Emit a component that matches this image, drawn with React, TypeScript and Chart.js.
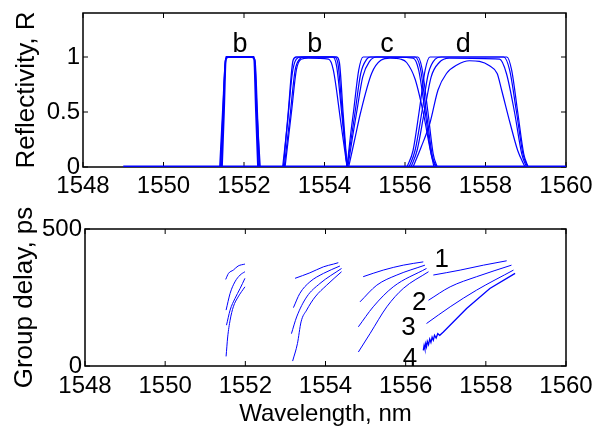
import React, { useEffect, useRef } from "react";
import { Chart, registerables } from "chart.js";

Chart.register(...registerables);

type Pt = [number, number];

// ---------- axes ----------
const xMin = 1548;
const xMax = 1560;
const xStep = 2;
const reflTicks = [0, 0.5, 1];
const reflMax = 1.4;
const gdTicks = [0, 500];
const gdMax = 500;

// ---------- top panel: reflectivity ----------
const reflBaseline: Pt[] = [[1549, 0], [1560, 0]];

const reflB1a: Pt[] = [[1551.45, 0], [1551.5, 0.5], [1551.55, 1], [1552.25, 1], [1552.3, 0.5], [1552.35, 0]];
const reflB1b: Pt[] = [[1551.42, 0], [1551.48, 0.5], [1551.54, 0.97], [1551.6, 1], [1552.2, 1], [1552.27, 0.97], [1552.33, 0.5], [1552.38, 0]];
const reflB1c: Pt[] = [[1551.4, 0], [1551.47, 0.5], [1551.55, 0.98], [1551.62, 1], [1552.18, 1], [1552.26, 0.98], [1552.32, 0.5], [1552.4, 0]];

const reflB2a: Pt[] = [[1552.98, 0], [1553.1, 0.5], [1553.22, 0.97], [1553.3, 1], [1554.3, 1], [1554.37, 0.95], [1554.46, 0.5], [1554.56, 0]];
const reflB2b: Pt[] = [[1552.96, 0], [1553.08, 0.4], [1553.2, 0.85], [1553.3, 0.98], [1553.42, 1], [1554.24, 1], [1554.33, 0.95], [1554.44, 0.5], [1554.56, 0]];
const reflB2c: Pt[] = [[1553.0, 0], [1553.14, 0.45], [1553.27, 0.88], [1553.38, 0.98], [1553.5, 1], [1554.2, 1], [1554.3, 0.92], [1554.43, 0.48], [1554.56, 0]];
const reflB2d: Pt[] = [[1553.02, 0], [1553.18, 0.5], [1553.3, 0.88], [1553.42, 0.98], [1553.6, 0.99], [1554.1, 0.98], [1554.22, 0.88], [1554.4, 0.42], [1554.56, 0]];

const reflCa: Pt[] = [[1554.56, 0], [1554.65, 0.3], [1554.72, 0.5], [1554.85, 0.88], [1554.96, 1], [1556.32, 1], [1556.42, 0.9], [1556.57, 0.5], [1556.7, 0.12], [1556.8, 0]];
const reflCb: Pt[] = [[1554.56, 0], [1554.68, 0.3], [1554.76, 0.5], [1554.9, 0.85], [1555.05, 0.98], [1555.15, 1], [1556.25, 1], [1556.38, 0.9], [1556.53, 0.5], [1556.68, 0.1], [1556.78, 0]];
const reflCc: Pt[] = [[1554.58, 0], [1554.7, 0.28], [1554.8, 0.5], [1554.95, 0.82], [1555.12, 0.96], [1555.3, 1], [1556.2, 0.99], [1556.34, 0.88], [1556.5, 0.5], [1556.65, 0.12], [1556.76, 0]];
const reflCd: Pt[] = [[1554.6, 0], [1554.75, 0.25], [1554.9, 0.5], [1555.17, 0.85], [1555.4, 0.97], [1555.63, 0.99], [1555.9, 0.98], [1556.04, 0.95], [1556.25, 0.8], [1556.45, 0.5], [1556.62, 0.17], [1556.72, 0]];

const reflDa: Pt[] = [[1556.05, 0], [1556.2, 0.15], [1556.35, 0.5], [1556.5, 0.88], [1556.62, 1], [1558.53, 1], [1558.65, 0.88], [1558.8, 0.5], [1558.95, 0.12], [1559.06, 0]];
const reflDb: Pt[] = [[1556.1, 0], [1556.25, 0.15], [1556.42, 0.5], [1556.58, 0.85], [1556.75, 0.98], [1556.9, 1], [1558.45, 1], [1558.6, 0.88], [1558.77, 0.5], [1558.93, 0.12], [1559.05, 0]];
const reflDc: Pt[] = [[1556.15, 0], [1556.3, 0.15], [1556.48, 0.5], [1556.65, 0.82], [1556.85, 0.95], [1557.1, 0.99], [1558.35, 0.98], [1558.52, 0.85], [1558.72, 0.5], [1558.9, 0.12], [1559.02, 0]];
const reflDd: Pt[] = [[1556.2, 0], [1556.4, 0.18], [1556.62, 0.4], [1556.82, 0.7], [1557.03, 0.85], [1557.3, 0.93], [1557.6, 0.966], [1557.85, 0.96], [1558.1, 0.92], [1558.29, 0.85], [1558.4, 0.7], [1558.61, 0.4], [1558.8, 0.15], [1558.98, 0]];

// ---------- bottom panel: group delay ----------
const gdB1a: Pt[] = [[1551.51, 316], [1551.58, 338], [1551.7, 350], [1551.82, 365], [1551.99, 372]];
const gdB1b: Pt[] = [[1551.52, 204], [1551.62, 265], [1551.74, 307], [1551.87, 332], [1551.99, 344]];
const gdB1c: Pt[] = [[1551.53, 149], [1551.62, 204], [1551.74, 246], [1551.87, 283], [1551.99, 320]];
const gdB1d: Pt[] = [[1551.52, 35], [1551.56, 106], [1551.62, 167], [1551.7, 216], [1551.82, 252], [1551.99, 289]];

const gdB2a: Pt[] = [[1553.24, 320], [1553.61, 340], [1553.95, 362], [1554.2, 372], [1554.32, 377]];
const gdB2b: Pt[] = [[1553.2, 213], [1553.36, 265], [1553.61, 307], [1553.95, 338], [1554.36, 365]];
const gdB2c: Pt[] = [[1553.15, 118], [1553.28, 179], [1553.53, 252], [1553.86, 301], [1554.4, 356]];
const gdB2d: Pt[] = [[1553.18, 18], [1553.3, 82], [1553.39, 161], [1553.53, 204], [1553.74, 252], [1554.03, 295], [1554.4, 344]];

const gdCa: Pt[] = [[1554.94, 326], [1555.44, 350], [1555.94, 368], [1556.44, 380]];
const gdCb: Pt[] = [[1554.86, 234], [1555.28, 295], [1555.78, 332], [1556.48, 368]];
const gdCc: Pt[] = [[1554.82, 143], [1555.19, 216], [1555.69, 289], [1556.52, 356]];
const gdCd: Pt[] = [[1554.82, 51], [1555.11, 118], [1555.53, 216], [1555.94, 283], [1556.57, 344]];

const gdDa: Pt[] = [[1556.69, 332], [1557.36, 350], [1557.94, 368], [1558.52, 384]];
const gdDb: Pt[] = [[1556.57, 240], [1557.11, 289], [1557.77, 326], [1558.64, 368]];
const gdDc: Pt[] = [[1556.52, 155], [1557.11, 216], [1557.77, 277], [1558.69, 350]];
const gdDd: Pt[] = [
  [1556.44, 57], [1556.46, 75], [1556.48, 62], [1556.5, 82], [1556.52, 70], [1556.54, 90],
  [1556.57, 78], [1556.6, 98], [1556.63, 86], [1556.66, 105], [1556.69, 94], [1556.72, 112],
  [1556.76, 102], [1556.8, 118], [1556.85, 112], [1556.94, 124], [1557.52, 210], [1558.1, 283], [1558.73, 338],
];

// ---------- annotations ----------
const reflLabelText = ["b", "b", "c", "d"];
const reflLabelX = [1551.9, 1553.76, 1555.55, 1557.45];
const reflLabelY = [1.045, 1.045, 1.045, 1.045];

const gdLabelText = ["1", "2", "3", "4"];
const gdLabelX = [1556.9, 1556.34, 1556.07, 1556.11];
const gdLabelY = [362, 204, 112, 0];

const BLUE = "#0000ff";
const FONT = "'Liberation Sans', Arial, Helvetica, sans-serif";

const boxPlugin = {
  id: "matlabBox",
  beforeDatasetsDraw(chart: any) {
    const { ctx, chartArea } = chart;
    const { left, right, top, bottom } = chartArea;
    const xs = chart.scales.x;
    const ys = chart.scales.y;
    const L = 5;
    ctx.save();
    ctx.strokeStyle = "#000";
    ctx.lineWidth = 1.5;
    ctx.strokeRect(left, top, right - left, bottom - top);
    ctx.beginPath();
    xs.ticks.forEach((t: any) => {
      const px = xs.getPixelForValue(t.value);
      ctx.moveTo(px, bottom);
      ctx.lineTo(px, bottom - L);
      ctx.moveTo(px, top);
      ctx.lineTo(px, top + L);
    });
    ys.ticks.forEach((t: any) => {
      const py = ys.getPixelForValue(t.value);
      ctx.moveTo(left, py);
      ctx.lineTo(left + L, py);
      ctx.moveTo(right, py);
      ctx.lineTo(right - L, py);
    });
    ctx.lineWidth = 1;
    ctx.stroke();
    ctx.restore();
  },
};

const labelPlugin = {
  id: "curveLabels",
  afterDatasetsDraw(chart: any, _args: any, opts: any) {
    if (!opts || !opts.text) return;
    const { ctx } = chart;
    const xs = chart.scales.x;
    const ys = chart.scales.y;
    ctx.save();
    ctx.fillStyle = "#000";
    ctx.font = `${opts.size || 25}px ${FONT}`;
    ctx.textAlign = "center";
    ctx.textBaseline = "alphabetic";
    opts.text.forEach((t: string, i: number) => {
      ctx.fillText(t, xs.getPixelForValue(opts.x[i]), ys.getPixelForValue(opts.y[i]));
    });
    ctx.restore();
  },
};

function toData(p: Pt[]) {
  return p.map(([x, y]) => ({ x, y }));
}

function line(p: Pt[], width: number, monotone = true) {
  return {
    data: toData(p),
    borderColor: BLUE,
    backgroundColor: BLUE,
    borderWidth: width,
    pointRadius: 0,
    fill: false,
    showLine: true,
    cubicInterpolationMode: monotone ? "monotone" : "default",
    tension: 0,
  };
}

function makeOptions(cfg: {
  padTop: number;
  yWidth: number;
  xHeight: number;
  yMax: number;
  yTicks: number[];
  yTitle: string;
  yTitlePad: number;
  xTitle?: string;
  xTickPad: number;
  labels: any;
}) {
  const tickFont = { family: FONT, size: 24 };
  return {
    animation: false,
    responsive: false,
    maintainAspectRatio: false,
    layout: { padding: { left: 0, top: cfg.padTop, right: 27, bottom: 0 } },
    plugins: {
      legend: { display: false },
      tooltip: { enabled: false },
      curveLabels: cfg.labels,
    },
    elements: { point: { radius: 0 } },
    scales: {
      x: {
        type: "linear",
        min: xMin,
        max: xMax,
        grid: { display: false, drawTicks: false },
        border: { display: false },
        ticks: {
          stepSize: xStep,
          padding: cfg.xTickPad,
          color: "#000",
          maxRotation: 0,
          autoSkip: false,
          font: tickFont,
          callback: (v: any) => String(v),
        },
        title: cfg.xTitle
          ? { display: true, text: cfg.xTitle, color: "#000", font: { family: FONT, size: 24 }, padding: { top: 0, bottom: 1 } }
          : { display: false },
        afterFit: (s: any) => {
          s.height = cfg.xHeight;
          s.paddingLeft = 0;
          s.paddingRight = 0;
        },
      },
      y: {
        type: "linear",
        min: 0,
        max: cfg.yMax,
        grid: { display: false, drawTicks: false },
        border: { display: false },
        afterBuildTicks: (s: any) => {
          s.ticks = cfg.yTicks.map((v) => ({ value: v }));
        },
        ticks: {
          padding: 3,
          color: "#000",
          font: tickFont,
          callback: (v: any) => String(v),
        },
        title: {
          display: true,
          text: cfg.yTitle,
          color: "#000",
          font: { family: FONT, size: 26 },
          padding: { top: cfg.yTitlePad, bottom: 0 },
        },
        afterFit: (s: any) => {
          s.width = cfg.yWidth;
          s.paddingTop = 0;
          s.paddingBottom = 0;
        },
      },
    },
  };
}

export default function App() {
  const topRef = useRef<HTMLCanvasElement>(null);
  const botRef = useRef<HTMLCanvasElement>(null);

  useEffect(() => {
    Chart.defaults.font.family = FONT;
    const top = new Chart(topRef.current as HTMLCanvasElement, {
      type: "line",
      data: {
        datasets: [
          line(reflBaseline, 3, false),
          line(reflB1a, 2),
          line(reflB1b, 1.5),
          line(reflB1c, 1.5),
          line(reflB2a, 1.3),
          line(reflB2b, 1.2),
          line(reflB2c, 1.2),
          line(reflB2d, 1.2),
          line(reflCa, 1.2),
          line(reflCb, 1.2),
          line(reflCc, 1.2),
          line(reflCd, 1.2),
          line(reflDa, 1.2),
          line(reflDb, 1.2),
          line(reflDc, 1.2),
          line(reflDd, 1.2),
        ] as any,
      },
      options: makeOptions({
        padTop: 13,
        yWidth: 83,
        xHeight: 48,
        yMax: reflMax,
        yTicks: reflTicks,
        yTitle: "Reflectivity, R",
        yTitlePad: 11,
        xTickPad: 5,
        labels: { text: reflLabelText, x: reflLabelX, y: reflLabelY, size: 27 },
      }) as any,
      plugins: [boxPlugin, labelPlugin],
    });

    const bot = new Chart(botRef.current as HTMLCanvasElement, {
      type: "line",
      data: {
        datasets: [
          line(gdB1a, 1),
          line(gdB1b, 1),
          line(gdB1c, 1),
          line(gdB1d, 1),
          line(gdB2a, 1),
          line(gdB2b, 1),
          line(gdB2c, 1),
          line(gdB2d, 1),
          line(gdCa, 1),
          line(gdCb, 1),
          line(gdCc, 1),
          line(gdCd, 1),
          line(gdDa, 1),
          line(gdDb, 1),
          line(gdDc, 1),
          line(gdDd, 1.3, false),
        ] as any,
      },
      options: makeOptions({
        padTop: 29,
        yWidth: 85,
        xHeight: 64,
        yMax: gdMax,
        yTicks: gdTicks,
        yTitle: "Group delay, ps",
        yTitlePad: 9,
        xTitle: "Wavelength, nm",
        xTickPad: 6,
        labels: { text: gdLabelText, x: gdLabelX, y: gdLabelY, size: 26 },
      }) as any,
      plugins: [boxPlugin, labelPlugin],
    });

    return () => {
      top.destroy();
      bot.destroy();
    };
  }, []);

  return (
    <div style={{ position: "fixed", left: 0, top: 0, width: 593, height: 430, background: "#fff" }}>
      <canvas ref={topRef} width={593} height={215} style={{ display: "block", position: "absolute", left: 0, top: 0 }} />
      <canvas ref={botRef} width={593} height={230} style={{ display: "block", position: "absolute", left: 0, top: 200 }} />
    </div>
  );
}
